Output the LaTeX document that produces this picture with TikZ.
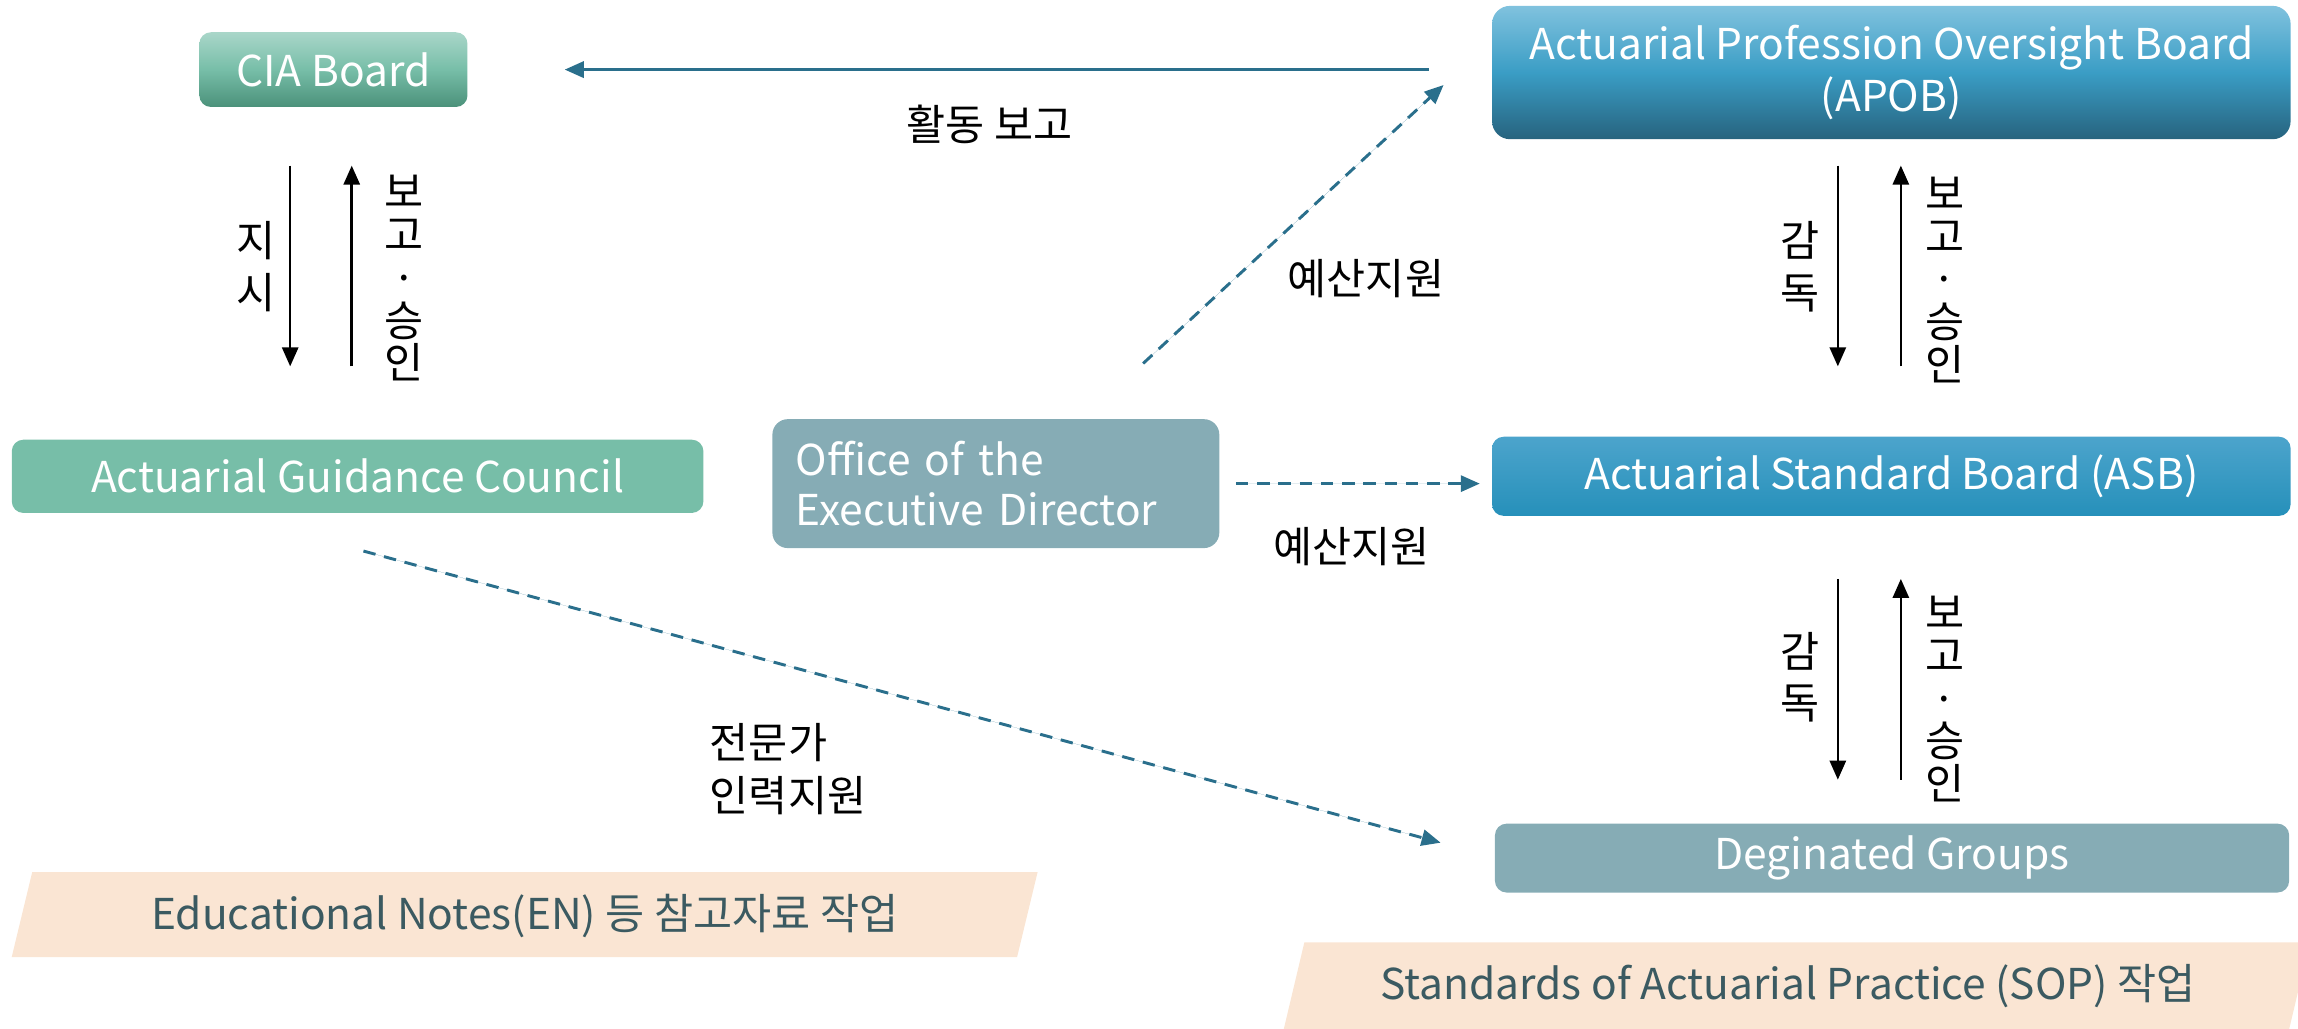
\documentclass[tikz,border=0pt]{standalone}
\usepackage{fontspec}
\setmainfont{Noto Sans CJK KR}
\usepackage{tikz}
\usepackage{xcolor}
\usetikzlibrary{arrows.meta,positioning,calc}

\definecolor{ciaTop}{HTML}{A9D6C9}
\definecolor{ciaBot}{HTML}{4B917A}
\definecolor{agcFill}{HTML}{77BEA8}
\definecolor{greyBlue}{HTML}{86ACB5}
\definecolor{apobTop}{HTML}{80C2DE}
\definecolor{apobMid}{HTML}{3A9DC5}
\definecolor{apobBot}{HTML}{27637E}
\definecolor{asbTop}{HTML}{4CA4CC}
\definecolor{asbBot}{HTML}{2690BA}
\definecolor{flowBlue}{HTML}{2A6F8C}
\definecolor{bannerFill}{HTML}{FAE5D3}
\definecolor{bannerText}{HTML}{3B5A61}

\begin{document}
\begin{tikzpicture}[x=0.02cm, y=-0.02cm,
    >={Triangle[length=0.26cm,width=0.22cm]},
    every node/.style={font=\fontsize{16.5}{19.5}\selectfont},
    box/.style={rounded corners=4.5pt, text=white, align=center, inner sep=0pt},
    flow/.style={->, draw=flowBlue, fill=flowBlue, line width=0.04cm},
    dashflow/.style={flow, dash pattern=on 0.17cm off 0.12cm},
    blk/.style={->, line width=0.035cm},
    vlabel/.style={align=center, inner sep=0pt, font=\fontsize{16.5}{16.6}\selectfont},
    vpair/.style={align=center, inner sep=0pt, font=\fontsize{16.5}{20}\selectfont},
    bantext/.style={text=bannerText, inner sep=0pt}]
    \useasboundingbox (0,0) rectangle (1568,702);

    % Boards
    \node[box, minimum width=3.66cm, minimum height=1.02cm,
          top color=ciaTop, bottom color=ciaBot, middle color=agcFill] (cia) at (227.5,47.5) {CIA Board};
    \node[box, minimum width=10.9cm, minimum height=1.82cm, rounded corners=7pt,
          font=\fontsize{16.5}{20}\selectfont,
          top color=apobTop, bottom color=apobBot, middle color=apobMid] (apob) at (1290.5,49.5)
          {Actuarial Profession Oversight Board\\(APOB)};
    \node[box, minimum width=9.44cm, minimum height=1.0cm, fill=agcFill] (agc) at (244,325) {Actuarial Guidance Council};
    \node[box, minimum width=6.1cm, minimum height=1.76cm, rounded corners=6pt, fill=greyBlue,
          align=left, text width=5.46cm, font=\fontsize{16.5}{19.5}\selectfont] (oed) at (679.5,330)
          {Office of the\\Executive Director};
    \node[box, minimum width=10.9cm, minimum height=1.08cm,
          top color=asbTop, bottom color=asbBot] (asb) at (1290.5,325) {Actuarial Standard Board (ASB)};
    \node[box, minimum width=10.84cm, minimum height=0.94cm, fill=greyBlue] (dg) at (1291,585.5) {Deginated Groups};

    % Work banners
    \fill[bannerFill] (22,595) -- (708,595) -- (694,653) -- (8,653) -- cycle;
    \node[bantext] (en) at (358,625) {Educational Notes(EN) 등 참고자료 작업};
    \fill[bannerFill] (890,643) -- (1576,643) -- (1562,702) -- (876,702) -- cycle;
    \node[bantext] (sop) at (1220,673) {Standards of Actuarial Practice (SOP) 작업};

    % Activity report
    \draw[flow, shorten <=0.86cm, shorten >=1.32cm] (apob.west |- cia.east) -- (cia.east);
    \node (rptLbl) at (675,85) {활동 보고};

    % Budget support
    \coordinate (budS) at (780,248);
    \coordinate (budE) at (985,58);
    \draw[dashflow] (budS) -- (budE);
    \node (budUp) at (932,190) {예산지원};
    \draw[dashflow, shorten <=0.22cm, shorten >=0.16cm] (oed.east) -- (oed.east -| asb.west);
    \node (budMid) at (922,373) {예산지원};

    % Expert staff support
    \coordinate (staffS) at (248,376);
    \coordinate (staffE) at (983,575);
    \draw[dashflow] (staffS) -- (staffE);
    \node[align=left, anchor=west, inner sep=0pt, font=\fontsize{16.5}{20.5}\selectfont] (staffLbl) at (484,525) {전문가\\인력지원};

    % CIA Board - Guidance Council
    \coordinate (ciaDn) at (198,113);
    \coordinate (agcUp) at (240,250);
    \draw[blk] (ciaDn) -- (ciaDn |- agcUp);
    \draw[blk] (agcUp) -- (agcUp |- ciaDn);
    \node[vpair] (dirLbl) at (175,182) {지\\시};
    \node[vlabel] (ciaRep) at (276,190) {보\\고\\·\\승\\인};

    % APOB - ASB
    \coordinate (apobDn) at (1254,113);
    \coordinate (asbUp) at (1297,250);
    \draw[blk] (apobDn) -- (apobDn |- asbUp);
    \draw[blk] (asbUp) -- (asbUp |- apobDn);
    \node[vpair] (supA) at (1228,182) {감\\독};
    \node[vlabel] (repA) at (1327,191) {보\\고\\·\\승\\인};

    % ASB - Deginated Groups
    \coordinate (asbDn) at (1254,395);
    \coordinate (dgUp) at (1297,532);
    \draw[blk] (asbDn) -- (asbDn |- dgUp);
    \draw[blk] (dgUp) -- (dgUp |- asbDn);
    \node[vpair] (supB) at (1228,462) {감\\독};
    \node[vlabel] (repB) at (1327,477) {보\\고\\·\\승\\인};
\end{tikzpicture}
\end{document}
